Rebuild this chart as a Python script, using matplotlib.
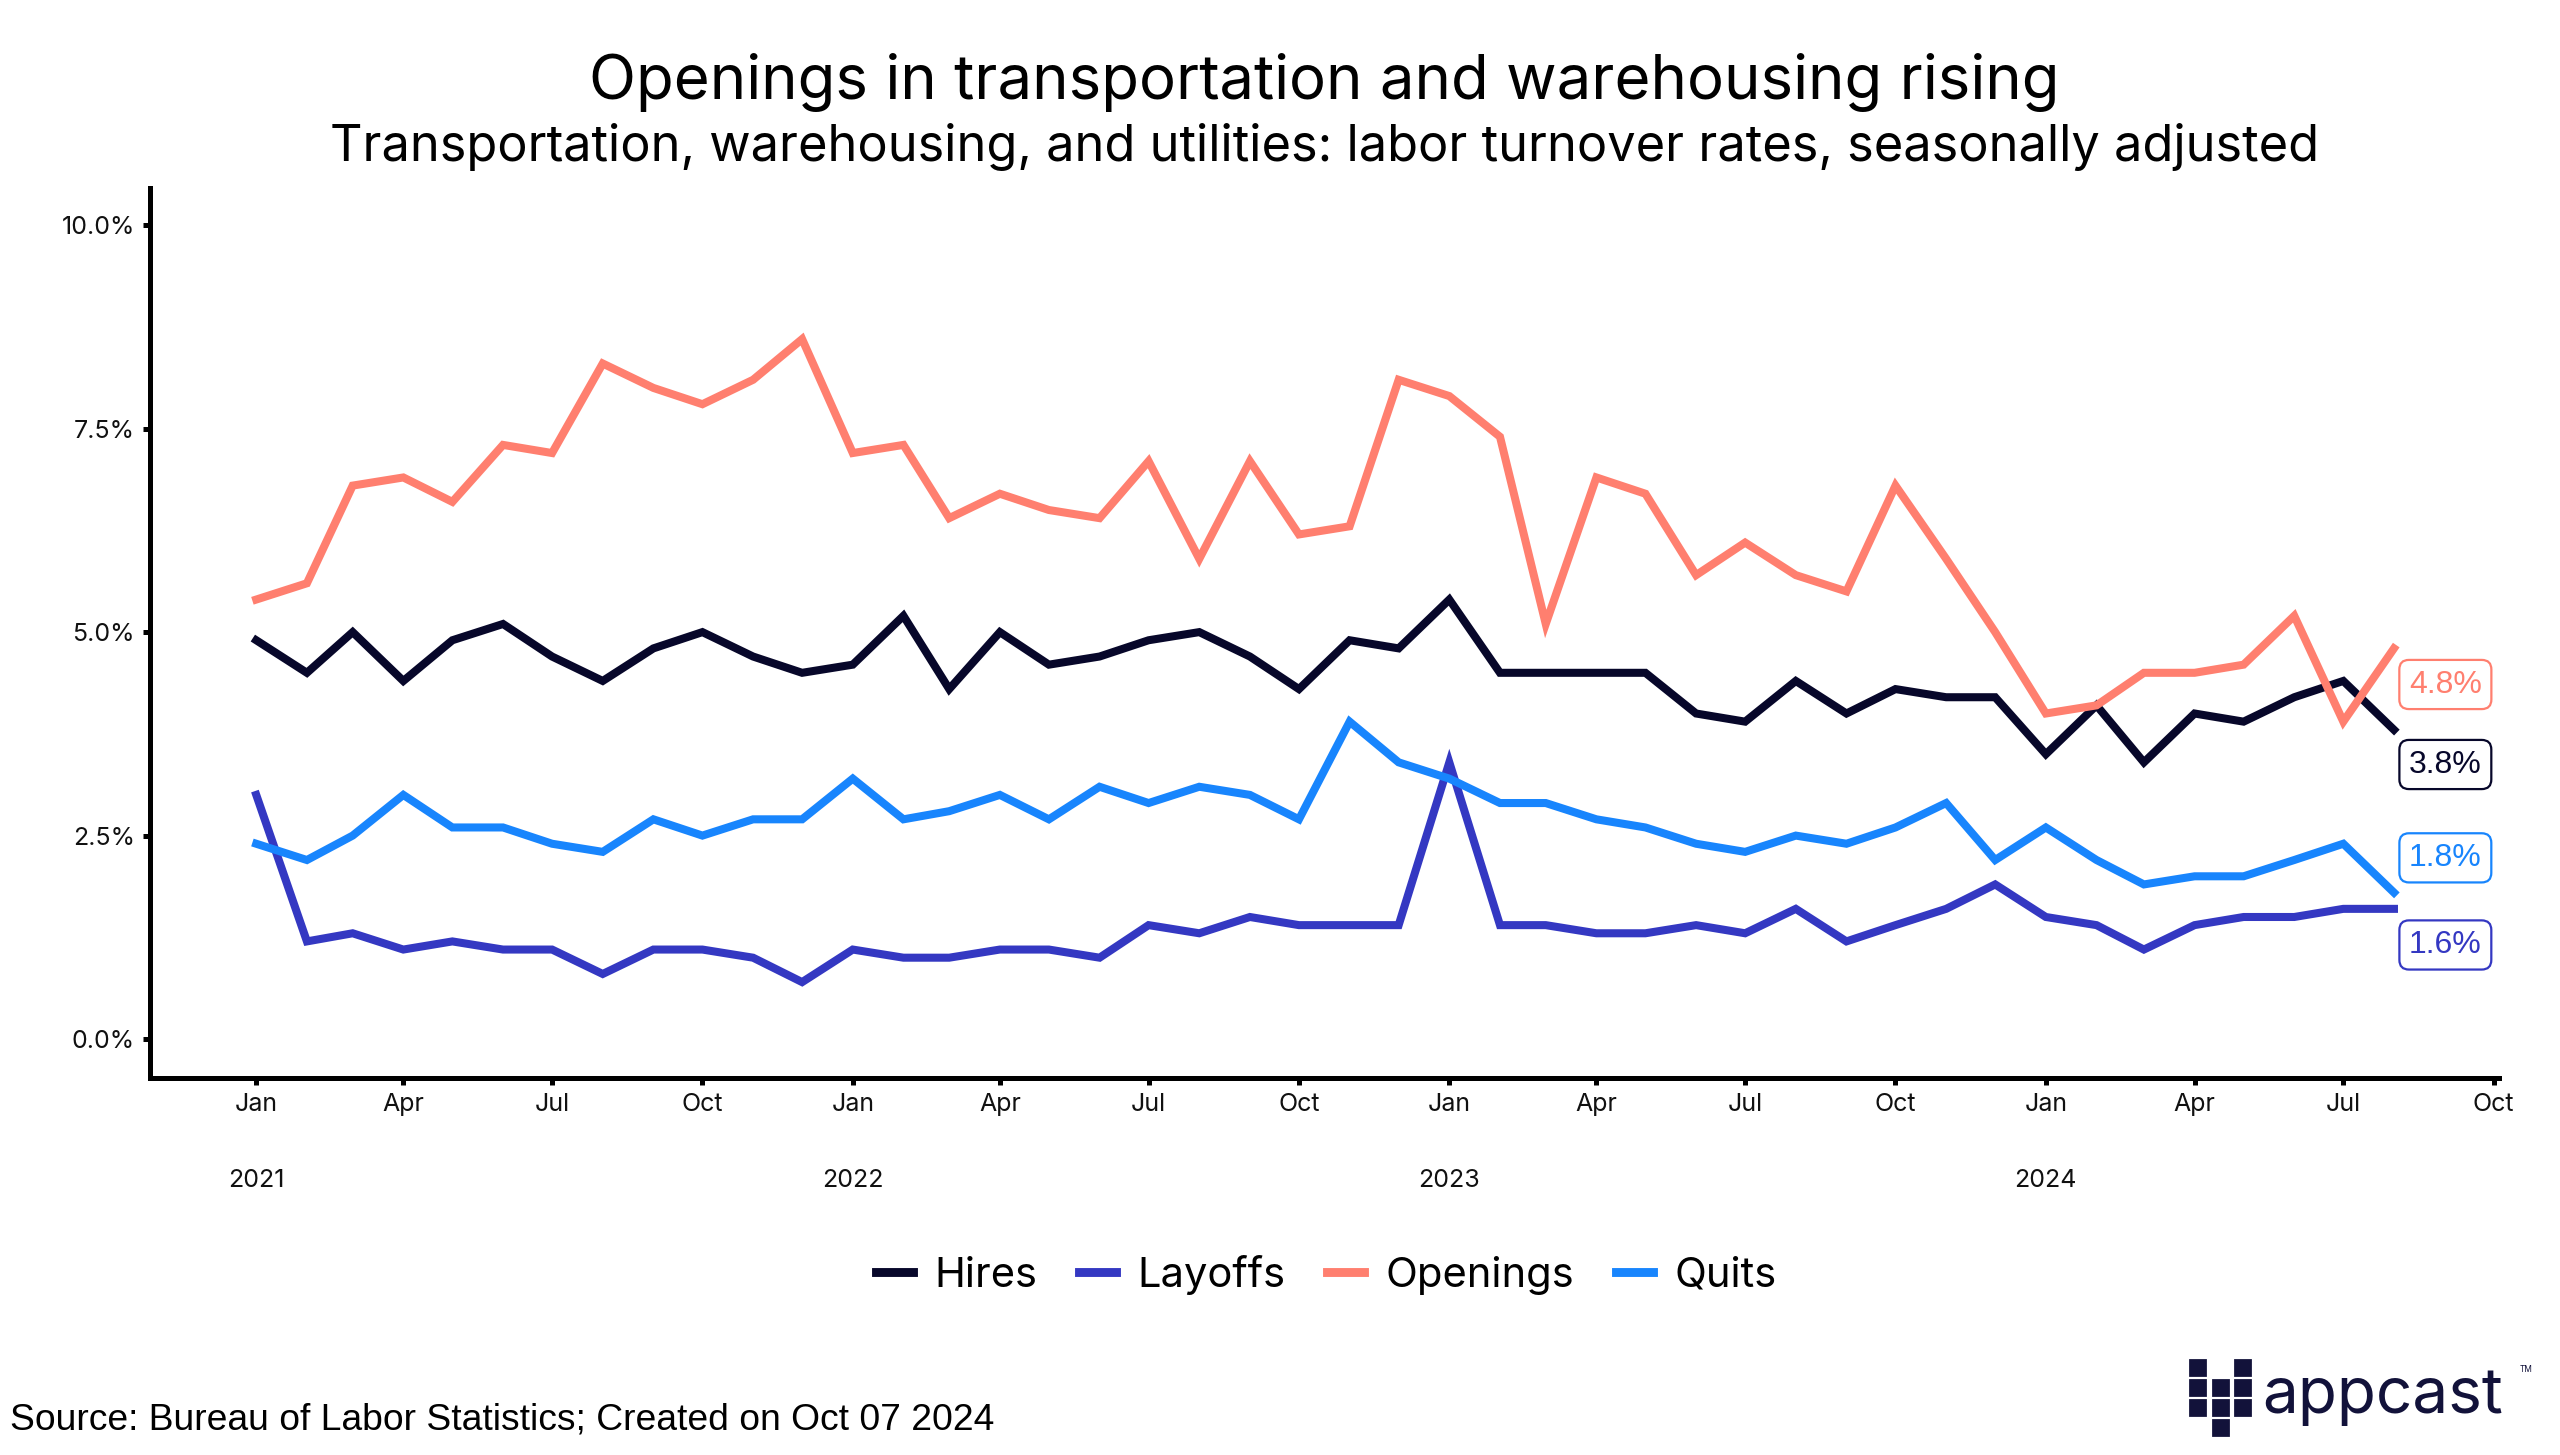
import numpy as np
import pandas as pd
import matplotlib
matplotlib.use('Agg')
import matplotlib.pyplot as plt
import matplotlib.dates as mdates
import matplotlib.transforms as mtrans
from matplotlib.lines import Line2D
from matplotlib.patches import Rectangle

# monthly JOLTS rates, Jan 2021 .. Aug 2024
months = pd.date_range('2021-01-01', '2024-08-01', freq='MS')

hires = [4.9, 4.5, 5.0, 4.4, 4.9, 5.1, 4.7, 4.4, 4.8, 5.0, 4.7, 4.5,
         4.6, 5.2, 4.3, 5.0, 4.6, 4.7, 4.9, 5.0, 4.7, 4.3, 4.9, 4.8,
         5.4, 4.5, 4.5, 4.5, 4.5, 4.0, 3.9, 4.4, 4.0, 4.3, 4.2, 4.2,
         3.5, 4.1, 3.4, 4.0, 3.9, 4.2, 4.4, 3.8]
layoffs = [3.0, 1.2, 1.3, 1.1, 1.2, 1.1, 1.1, 0.8, 1.1, 1.1, 1.0, 0.7,
           1.1, 1.0, 1.0, 1.1, 1.1, 1.0, 1.4, 1.3, 1.5, 1.4, 1.4, 1.4,
           3.4, 1.4, 1.4, 1.3, 1.3, 1.4, 1.3, 1.6, 1.2, 1.4, 1.6, 1.9,
           1.5, 1.4, 1.1, 1.4, 1.5, 1.5, 1.6, 1.6]
openings = [5.4, 5.6, 6.8, 6.9, 6.6, 7.3, 7.2, 8.3, 8.0, 7.8, 8.1, 8.6,
            7.2, 7.3, 6.4, 6.7, 6.5, 6.4, 7.1, 5.9, 7.1, 6.2, 6.3, 8.1,
            7.9, 7.4, 5.1, 6.9, 6.7, 5.7, 6.1, 5.7, 5.5, 6.8, 5.9, 5.0,
            4.0, 4.1, 4.5, 4.5, 4.6, 5.2, 3.9, 4.8]
quits = [2.4, 2.2, 2.5, 3.0, 2.6, 2.6, 2.4, 2.3, 2.7, 2.5, 2.7, 2.7,
         3.2, 2.7, 2.8, 3.0, 2.7, 3.1, 2.9, 3.1, 3.0, 2.7, 3.9, 3.4,
         3.2, 2.9, 2.9, 2.7, 2.6, 2.4, 2.3, 2.5, 2.4, 2.6, 2.9, 2.2,
         2.6, 2.2, 1.9, 2.0, 2.0, 2.2, 2.4, 1.8]

series_names = ['Hires', 'Layoffs', 'Openings', 'Quits']
series_vals = [hires, layoffs, openings, quits]
colors = ['#07072a', '#3438c2', '#ff7f6f', '#1885fd']
# end-label nudges (points), like ggrepel pushed them
label_dy = [-12.5, -13, -13, 12.5]

y_ticks = [0.0, 2.5, 5.0, 7.5, 10.0]
years = [2021, 2022, 2023, 2024]

FONT = 'Inter'
ink = '#111111'

fig = plt.figure(figsize=(12.8, 7.275), dpi=200)
ax = fig.add_axes([0.0586, 0.259, 0.9174, 0.612])

for name, vals, c in zip(series_names, series_vals, colors):
    ax.plot(months, vals, color=c, lw=2.9, solid_joinstyle='miter', label=name)

for vals, c, dy in zip(series_vals, colors, label_dy):
    ax.annotate(f'{vals[-1]:.1f}%', xy=(months[-1], vals[-1]), xytext=(18.5, dy),
                textcoords='offset points', ha='center', va='center',
                fontsize=11.5, family='Liberation Sans', color=c,
                bbox=dict(boxstyle='round,pad=0.3,rounding_size=0.3', fc='white', ec=c, lw=0.8))

ax.set_ylim(-0.48, 10.46)
ax.set_xlim(pd.Timestamp('2020-10-28'), pd.Timestamp('2024-10-04'))
ax.set_yticks(y_ticks)
ax.set_yticklabels([f'{v:.1f}%' for v in y_ticks], family=FONT, fontsize=9, color=ink)

ax.xaxis.set_major_locator(mdates.MonthLocator(bymonth=[1, 4, 7, 10]))
ax.xaxis.set_major_formatter(mdates.DateFormatter('%b'))
for lab in ax.get_xticklabels():
    lab.set_fontfamily(FONT)
    lab.set_fontsize(9)
    lab.set_color(ink)

trans = mtrans.blended_transform_factory(ax.transData, ax.transAxes)
for yr in years:
    ax.text(pd.Timestamp(f'{yr}-01-01'), -0.115, str(yr), transform=trans,
            ha='center', va='center', fontsize=9, family=FONT, color=ink)

for s in ['top', 'right']:
    ax.spines[s].set_visible(False)
for s in ['left', 'bottom']:
    ax.spines[s].set_linewidth(1.8)
    ax.spines[s].set_color('black')
ax.tick_params(axis='both', length=2.5, width=1.8, color='black', pad=3)

cx = (0.0586 + 0.976) / 2
fig.text(cx, 1 - 82 / 1455, 'Openings in transportation and warehousing rising',
         ha='center', va='center', fontsize=22.2, family=FONT, color='black')
fig.text(cx, 1 - 147 / 1455, 'Transportation, warehousing, and utilities: labor turnover rates, seasonally adjusted',
         ha='center', va='center', fontsize=18.2, family=FONT, color='black')

handles = [Line2D([], [], color=c, lw=3.2) for c in colors]
fig.legend(handles, series_names, loc='center', bbox_to_anchor=(0.518, 0.124), ncol=4,
           frameon=False, prop={'family': FONT, 'size': 15}, handlelength=0.9,
           handletextpad=0.5, columnspacing=1.0)

fig.text(10 / 2560, 1 - 1420 / 1455, 'Source: Bureau of Labor Statistics; Created on Oct 07 2024',
         ha='left', va='center', fontsize=13.4, family='Liberation Sans', color='black')

# appcast logo
navy = '#12123a'
sq = 15 / 2560
cells = [(0, 0), (2, 0), (0, 1), (1, 1), (2, 1), (0, 2), (1, 2), (2, 2), (1, 3)]
for col, row in cells:
    x0 = (2190 + col * 22.5) / 2560
    y0 = 1 - (1360 + row * 20 + 15) / 1455
    fig.patches.append(Rectangle((x0, y0), sq, 15 / 1455, transform=fig.transFigure,
                                 color=navy, zorder=5))
fig.text(2262 / 2560, 1 - 1413 / 1455, 'appcast', ha='left', va='baseline',
         fontsize=23, family='Inter', color=navy)
fig.text(2520 / 2560, 1 - 1372 / 1455, 'TM', ha='left', va='baseline',
         fontsize=3, family='Inter', color=navy)

fig.savefig('out.png', dpi=200, facecolor='white')
